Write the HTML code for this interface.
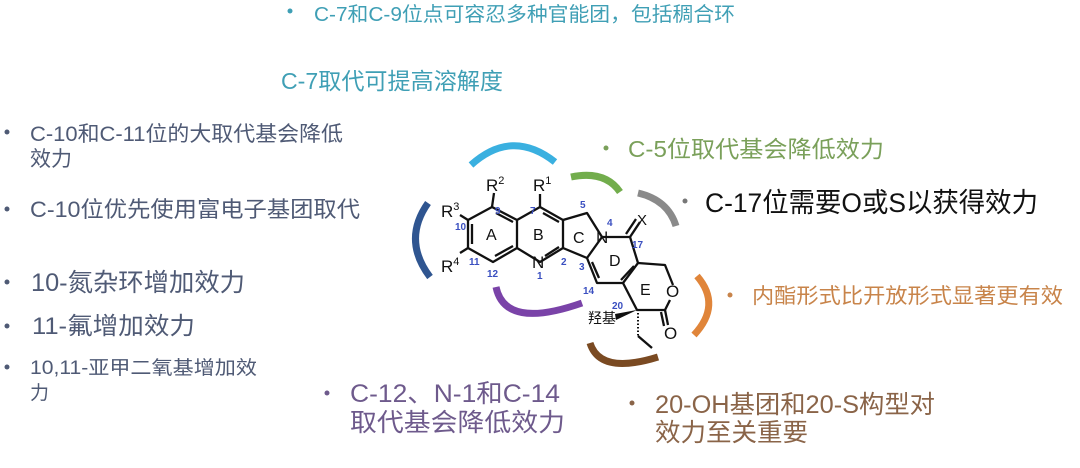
<!DOCTYPE html>
<html><head><meta charset="utf-8"><style>
html,body{margin:0;padding:0;background:#fff;width:1080px;height:468px;overflow:hidden}
svg{display:block}
text{font-family:"Liberation Sans","Noto Sans CJK SC",sans-serif}
</style></head><body>
<svg width="1080" height="468" viewBox="0 0 1080 468" xmlns="http://www.w3.org/2000/svg">
<!-- top texts -->
<g fill="#3f9fb5">
<circle cx="290" cy="11" r="2.5"/>
<text x="314" y="21" font-size="20" textLength="421" lengthAdjust="spacingAndGlyphs">C-7和C-9位点可容忍多种官能团，包括稠合环</text>
<text x="281" y="89" font-size="23" textLength="222" lengthAdjust="spacingAndGlyphs">C-7取代可提高溶解度</text>
</g>
<!-- left texts -->
<g fill="#4f5a75">
<circle cx="7" cy="132" r="2.5"/>
<text x="30" y="141" font-size="21" textLength="313" lengthAdjust="spacingAndGlyphs">C-10和C-11位的大取代基会降低</text>
<text x="30" y="166" font-size="21" textLength="42" lengthAdjust="spacingAndGlyphs">效力</text>
<circle cx="7" cy="209" r="2.5"/>
<text x="30" y="217" font-size="22" textLength="330" lengthAdjust="spacingAndGlyphs">C-10位优先使用富电子基团取代</text>
<circle cx="7" cy="282" r="2.5"/>
<text x="31" y="291" font-size="25" textLength="214" lengthAdjust="spacingAndGlyphs">10-氮杂环增加效力</text>
<circle cx="7" cy="326" r="2.5"/>
<text x="32" y="334" font-size="24" textLength="163" lengthAdjust="spacingAndGlyphs">11-氟增加效力</text>
<circle cx="7" cy="367" r="2.5"/>
<text x="30" y="374" font-size="19" textLength="227" lengthAdjust="spacingAndGlyphs">10,11-亚甲二氧基增加效</text>
<text x="30" y="399" font-size="19">力</text>
</g>
<!-- right texts -->
<g fill="#7aa05a"><circle cx="606" cy="148" r="2.5"/><text x="628" y="157" font-size="23" textLength="256" lengthAdjust="spacingAndGlyphs">C-5位取代基会降低效力</text></g>
<g fill="#111"><circle cx="685" cy="201" r="2.5" fill="#777"/><text x="705" y="212" font-size="27" textLength="333" lengthAdjust="spacingAndGlyphs">C-17位需要O或S以获得效力</text></g>
<g fill="#c8844a"><circle cx="730" cy="295" r="2.5"/><text x="752" y="303" font-size="21" textLength="311" lengthAdjust="spacingAndGlyphs">内酯形式比开放形式显著更有效</text></g>
<g fill="#8a6448"><circle cx="632" cy="403" r="2.5"/><text x="655" y="413" font-size="25" textLength="280" lengthAdjust="spacingAndGlyphs">20-OH基团和20-S构型对</text><text x="655" y="441" font-size="25" textLength="153" lengthAdjust="spacingAndGlyphs">效力至关重要</text></g>
<g fill="#6e5a8c"><circle cx="327" cy="393" r="2.5"/><text x="350" y="402" font-size="25" textLength="210" lengthAdjust="spacingAndGlyphs">C-12、N-1和C-14</text><text x="350" y="431" font-size="25" textLength="215" lengthAdjust="spacingAndGlyphs">取代基会降低效力</text></g>
<!-- arcs -->
<g fill="none" stroke-width="7" stroke-linecap="butt">
<path d="M471,165 Q512,128 555,162" stroke="#3ab0e0"/>
<path d="M571,177 Q605,170 620,192" stroke="#72ad4c"/>
<path d="M638,193 Q668,200 676,226" stroke="#8a8a8a"/>
<path d="M428,203 Q402,240 430,277" stroke="#2f5590"/>
<path d="M496,287 Q505,330 582,303" stroke="#7a43a8"/>
<path d="M590,343 Q600,375 658,357" stroke="#7a4a22"/>
<path d="M697,276 Q722,305 694,335" stroke="#e0853a"/>
</g>
<!-- molecule -->
<g stroke="#111" stroke-width="2.3" fill="none" stroke-linejoin="round">
<path d="M492,207 L517,220 L517,248 L493,262 L468,248 L468,220 Z"/>
<path d="M496,213 L513,222 M513,246 L495,256 M472,224 L472,244"/>
<path d="M517,220 L540,207 L563,220 L563,248 L540,262 L517,248"/>
<path d="M543,213 L559,222 M559,247 L545,256"/>
<path d="M563,220 L587,213 L602,237 L587,258 L563,248"/>
<path d="M602,237 L630,237 L638,263 L623,283 L597,283 L587,258"/>
<path d="M634,266 L621,280 M592,262 L599,278"/>
<path d="M638,263 L665,265 L673,285 M670,300 L665,310 L637,310 L623,283"/>
<path d="M665,310 L668,325 M661,312 L664,326"/>
<path d="M630,237 L640,222 M626,234 L636,219"/>
<path d="M638,336 L652,348"/>
<path d="M492,207 L494,193 M540,207 L540,194 M468,220 L460,215 M468,248 L460,253"/>
</g>
<path d="M638,313 L638,336" stroke="#111" stroke-width="2" stroke-dasharray="1.5,2"/>
<path d="M637,310 L615,314 L616,320 Z" fill="#111"/>
<g font-size="17" fill="#111">
<text x="486" y="191">R<tspan font-size="11" dy="-7">2</tspan></text>
<text x="533" y="191">R<tspan font-size="11" dy="-7">1</tspan></text>
<text x="441" y="217">R<tspan font-size="11" dy="-7">3</tspan></text>
<text x="441" y="272">R<tspan font-size="11" dy="-7">4</tspan></text>
<text x="486" y="240" font-size="16">A</text>
<text x="533" y="240" font-size="16">B</text>
<text x="573" y="243" font-size="16">C</text>
<text x="609" y="266" font-size="16">D</text>
<text x="640" y="295" font-size="16">E</text>
<text x="532" y="268">N</text>
<text x="596" y="243">N</text>
<text x="666" y="297">O</text>
<text x="664" y="339">O</text>
<text x="637" y="225" font-size="15">X</text>
<text x="588" y="323" font-size="14">羟基</text>
</g>
<g font-size="10" fill="#3a4fc0" font-weight="bold">
<text x="495" y="214">9</text>
<text x="530" y="214">7</text>
<text x="580" y="208">5</text>
<text x="607" y="226">4</text>
<text x="455" y="230">10</text>
<text x="469" y="265">11</text>
<text x="487" y="277">12</text>
<text x="537" y="279">1</text>
<text x="561" y="265">2</text>
<text x="579" y="270">3</text>
<text x="632" y="248">17</text>
<text x="583" y="294">14</text>
<text x="612" y="309">20</text>
</g>
</svg>
</body></html>
